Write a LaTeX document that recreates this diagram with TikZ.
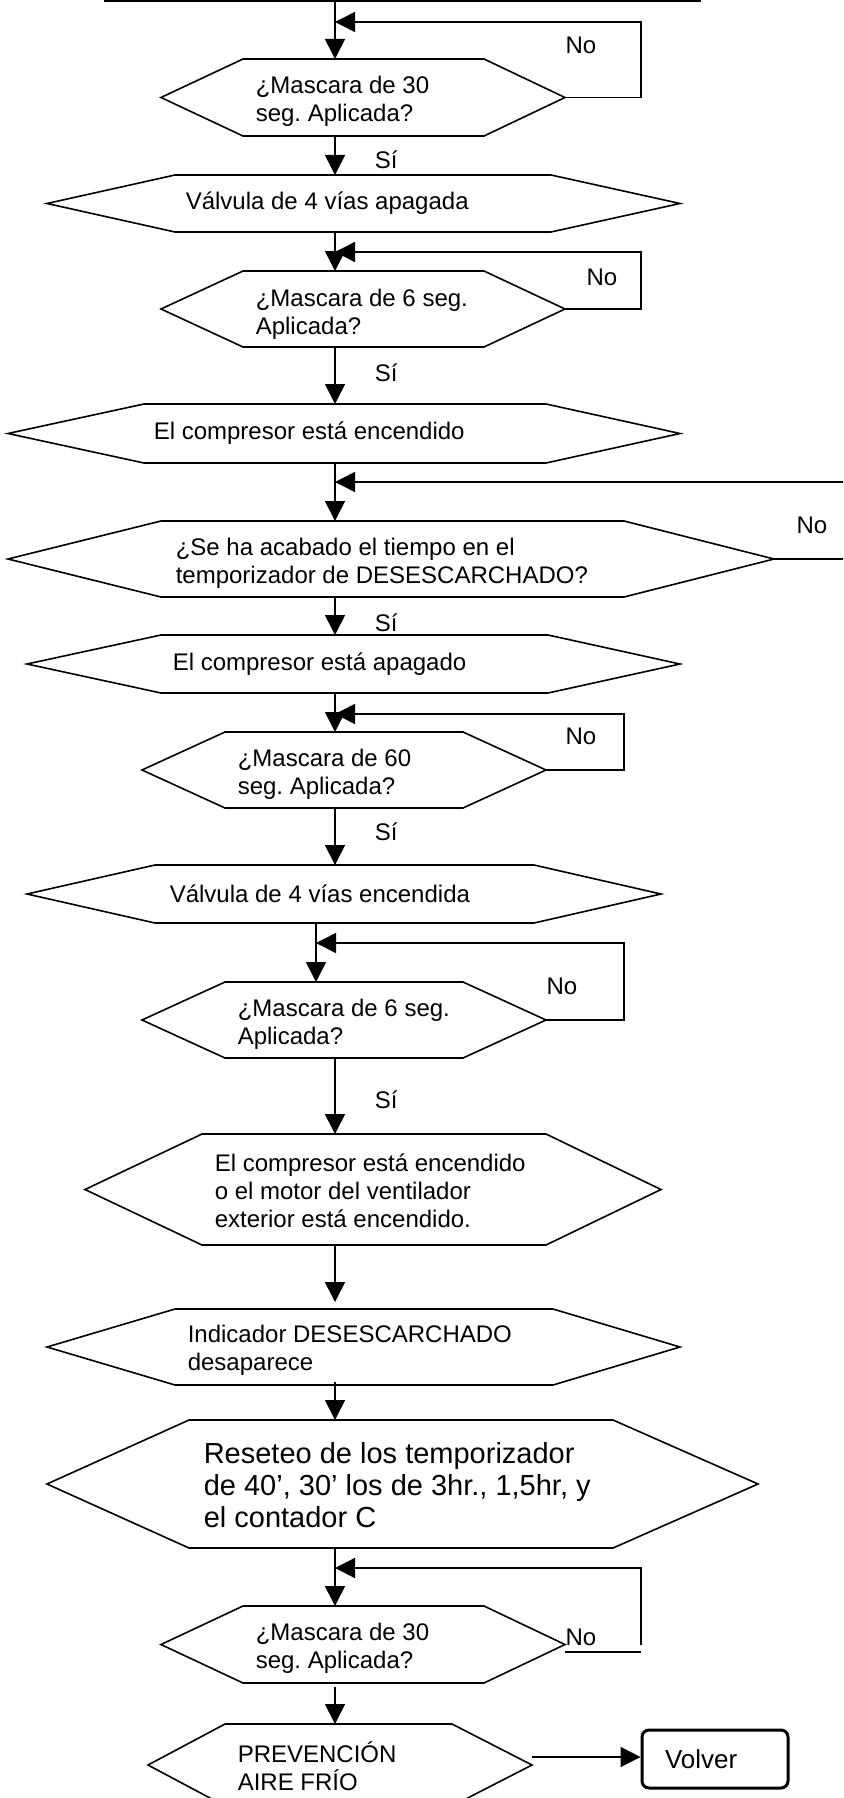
\documentclass[tikz,border=0pt]{standalone}
\usepackage{fontspec}
\setmainfont{Liberation Sans}
\usetikzlibrary{arrows.meta}
\frenchspacing

% hexagon: name, left vertex x, top-left x, top-right x, right vertex x, top y, bottom y
\newcommand\hexa[7]{%
  \draw[hexline] (#2,{(#6+#7)/2}) -- (#3,#6) -- (#4,#6) -- (#5,{(#6+#7)/2})
    -- (#4,#7) -- (#3,#7) -- cycle;
  \coordinate (#1-e) at (#5,{(#6+#7)/2});
}

\begin{document}
\begin{tikzpicture}[x=1pt,y=-1pt,
  line width=1.6pt,
  flow/.style={-{Triangle[length=20pt,width=20pt]}},
  hexline/.style={line width=1.6pt, line join=miter},
  lbl/.style={inner sep=0pt, anchor=west, align=left, font=\fontsize{24}{28}\selectfont},
  yn/.style={inner sep=0pt, font=\fontsize{24}{28}\selectfont},
  endbox/.style={draw, line width=3pt, rounded corners=7pt, minimum width=146pt,
    minimum height=58pt, text width=100pt, align=left, inner sep=0pt,
    font=\fontsize{26}{30}\selectfont},
]
\useasboundingbox (0,0) rectangle (843,1798);
\clip (0,0) rectangle (843,1798);

% box continued from the previous page
\node[draw, line width=1.6pt, minimum width=595pt, minimum height=80pt, anchor=south west, inner sep=0pt] (top) at (104,2) {};

% shapes
\hexa{h1}{161}{243}{484}{565}{59}{136}
\hexa{h2}{47}{175}{551}{680}{175}{232}
\hexa{h3}{161}{243}{484}{565}{271}{347}
\hexa{h4}{8}{144}{546}{680}{404}{463}
\hexa{h5}{8}{161}{624}{774}{521}{597}
\hexa{h6}{27}{161}{548}{680}{635}{693}
\hexa{h7}{142}{225}{463}{546}{732}{808}
\hexa{h8}{27}{155}{534}{661}{865}{923}
\hexa{h9}{142}{225}{463}{546}{982}{1058}
\hexa{h10}{85}{202}{546}{661}{1134}{1245}
\hexa{h11}{47}{175}{553}{680}{1309}{1385}
\hexa{h12}{47}{189}{613}{758}{1420}{1548}
\hexa{h13}{161}{243}{484}{565}{1606}{1683}
\hexa{h14}{148}{225}{452}{532}{1724}{1806}

% texts
\node[lbl] (t1) at (255,101) {¿Mascara de 30\\seg. Aplicada?};
\node[lbl] (t2) at (185,203) {Válvula de 4 vías apagada};
\node[lbl] (t3) at (255,314) {¿Mascara de 6 seg.\\Aplicada?};
\node[lbl] (t4) at (153,433) {El compresor está encendido};
\node[lbl] (t5) at (175,563) {¿Se ha acabado el tiempo en el\\temporizador de DESESCARCHADO?};
\node[lbl] (t6) at (172,664) {El compresor está apagado};
\node[lbl] (t7) at (237,774) {¿Mascara de 60\\seg. Aplicada?};
\node[lbl] (t8) at (169,894) {Válvula de 4 vías encendida};
\node[lbl] (t9) at (237,1024) {¿Mascara de 6 seg.\\Aplicada?};
\node[lbl] (t10) at (214,1191) {El compresor está encendido\\o el motor del ventilador\\exterior está encendido.};
\node[lbl] (t11) at (187,1350) {Indicador DESESCARCHADO\\desaparece};
\node[lbl, font=\fontsize{29}{32}\selectfont] (t12) at (203,1485) {Reseteo de los temporizador\\de 40’, 30’ los de 3hr., 1,5hr, y\\el contador C};
\node[lbl] (t13) at (255,1648) {¿Mascara de 30\\seg. Aplicada?};
\node[lbl] (t14) at (237,1766) {PREVENCIÓN\\AIRE FRÍO};
\node[endbox] (volver) at (715,1759) {Volver};

% yes / no labels
\node[yn, anchor=west] (s1) at (374,160) {Sí};
\node[yn, anchor=west] (s2) at (374,373) {Sí};
\node[yn, anchor=west] (s3) at (374,623) {Sí};
\node[yn, anchor=west] (s4) at (374,832) {Sí};
\node[yn, anchor=west] (s5) at (374,1100) {Sí};
\node[yn] (n1) at (581,45) {No};
\node[yn] (n2) at (602,277) {No};
\node[yn] (n3) at (812,525) {No};
\node[yn] (n4) at (581,736) {No};
\node[yn] (n5) at (562,986) {No};
\node[yn] (n6) at (581,1637) {No};

% connection points on the main line
\coordinate (a1) at (335,59);
\coordinate (a1b) at (335,136);
\coordinate (a2) at (335,175);
\coordinate (a2b) at (335,232);
\coordinate (a3) at (335,271);
\coordinate (a3b) at (335,347);
\coordinate (a4) at (335,404);
\coordinate (a4b) at (335,463);
\coordinate (a5) at (335,521);
\coordinate (a5b) at (335,597);
\coordinate (a6) at (335,635);
\coordinate (a6b) at (335,693);
\coordinate (a7) at (335,732);
\coordinate (a7b) at (335,808);
\coordinate (a8) at (335,865);
\coordinate (a8b) at (316,923);
\coordinate (a9) at (316,982);
\coordinate (a9b) at (335,1058);
\coordinate (a10) at (335,1134);
\coordinate (a10b) at (335,1245);
\coordinate (a11) at (335,1302);
\coordinate (a11b) at (335,1382);
\coordinate (a12) at (335,1420);
\coordinate (a12b) at (335,1548);
\coordinate (a13) at (335,1606);
\coordinate (a13b) at (335,1687);
\coordinate (a14) at (335,1724);
\coordinate (a14e) at (532,1757);

% re-entry points of the "No" loops
\coordinate (j1) at (335,22);
\coordinate (j3) at (335,252);
\coordinate (j5) at (335,482);
\coordinate (j7) at (335,714);
\coordinate (j9) at (316,943);
\coordinate (j13) at (335,1568);
\coordinate (k13) at (565,1652);
\coordinate (k13r) at (641,1652);
\coordinate (k13u) at (641,1645);

% main flow
\draw[flow] (top.south -| a1) -- (a1);
\draw[flow] (a1b) -- (a2);
\draw[flow] (a2b) -- (a3);
\draw[flow] (a3b) -- (a4);
\draw[flow] (a4b) -- (a5);
\draw[flow] (a5b) -- (a6);
\draw[flow] (a6b) -- (a7);
\draw[flow] (a7b) -- (a8);
\draw[flow] (a8b) -- (a9);
\draw[flow] (a9b) -- (a10);
\draw[flow] (a10b) -- (a11);
\draw[flow] (a11b) -- (a12);
\draw[flow] (a12b) -- (a13);
\draw[flow] (a13b) -- (a14);
\draw[flow] (a14e) -- (volver.west |- a14e);

% "No" loops
\draw[flow] (h1-e) -- ++(76,0) |- (j1);
\draw[flow] (h3-e) -- ++(76,0) |- (j3);
\draw[flow] (h5-e) -- ++(76,0) |- (j5);
\draw[flow] (h7-e) -- ++(78,0) |- (j7);
\draw[flow] (h9-e) -- ++(78,0) |- (j9);
\draw (k13) -- (k13r);
\draw[flow] (k13u) |- (j13);
\end{tikzpicture}
\end{document}
